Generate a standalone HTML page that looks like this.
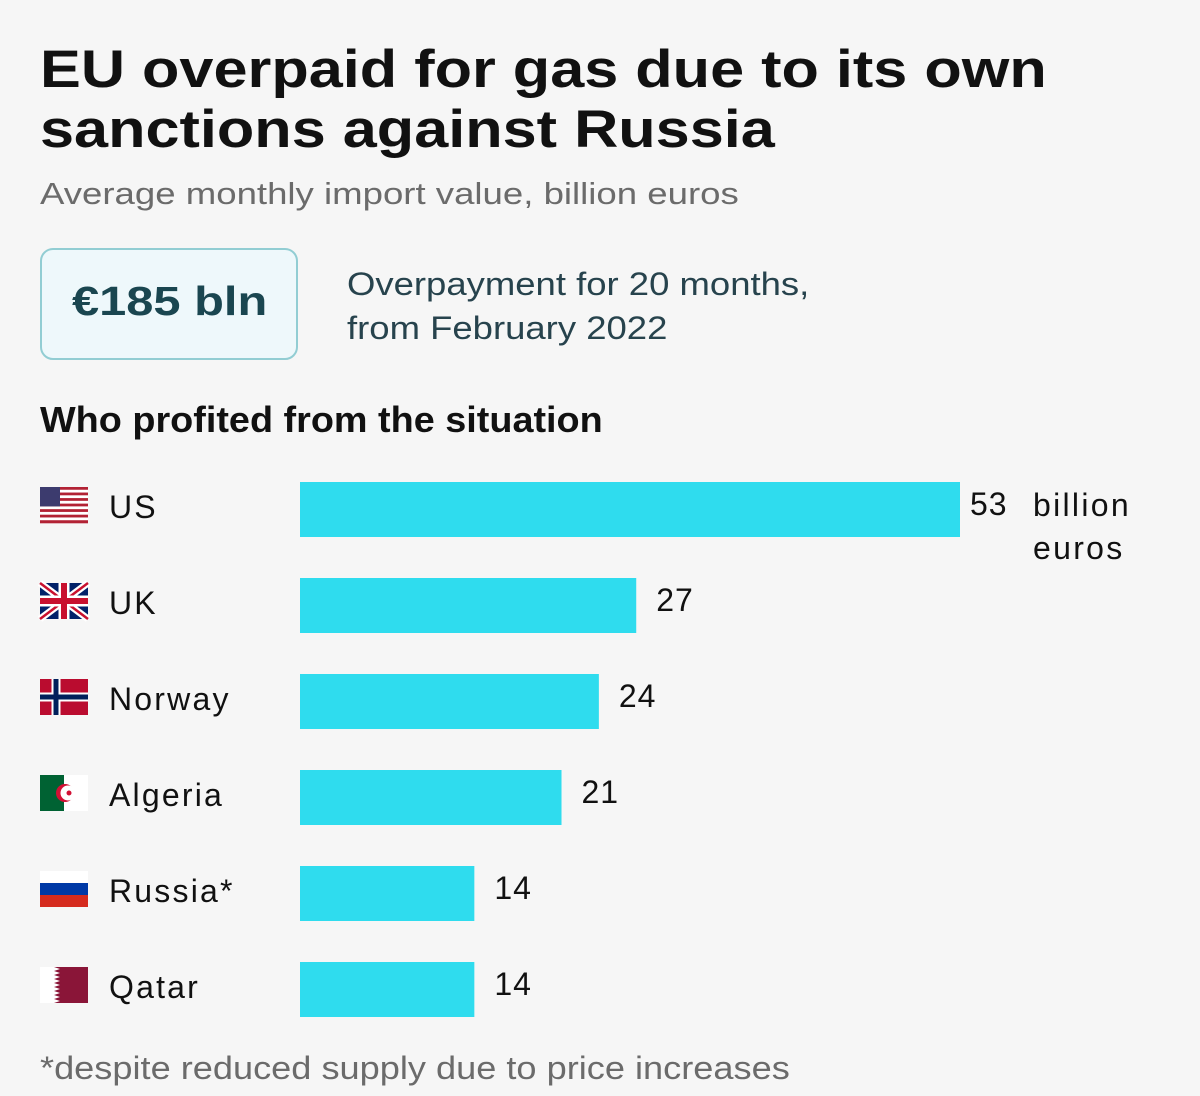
<!DOCTYPE html>
<html><head><meta charset="utf-8"><style>
body{margin:0;width:1200px;height:1096px;background:#f6f6f6;font-family:"Liberation Sans",sans-serif;position:relative;overflow:hidden}
.a{position:absolute;white-space:nowrap;transform-origin:0 0}
</style></head><body>
<div class="a" style="left:40px;top:40px;font-size:53px;font-weight:bold;line-height:60px;color:#111;transform:scaleX(1.155)">EU overpaid for gas due to its own<br>sanctions against Russia</div>
<div class="a" style="left:40px;top:176px;font-size:31px;color:#6b6b6b;transform:scaleX(1.18)">Average monthly import value, billion euros</div>
<div class="a" style="left:40px;top:248px;width:254px;height:108px;border:2px solid #92cdd3;border-radius:13px;background:#eef8fb;box-sizing:content-box"></div>
<div class="a" style="left:72px;top:278px;font-size:41px;font-weight:bold;color:#1a4650;transform:scaleX(1.19)">€185 bln</div>
<div class="a" style="left:347px;top:262px;font-size:32px;line-height:44px;color:#27434d;transform:scaleX(1.14)">Overpayment for 20 months,<br>from February 2022</div>
<div class="a" style="left:40px;top:399px;font-size:36px;font-weight:bold;color:#111;transform:scaleX(1.05)">Who profited from the situation</div>
<svg class="a" style="left:0;top:0" width="1200" height="1096" id="chart"></svg>
<div class="a" style="left:40px;top:1050px;font-size:32px;color:#6b6b6b;transform:scaleX(1.13)">*despite reduced supply due to price increases</div>
<script>
const categories=["US","UK","Norway","Algeria","Russia*","Qatar"];
const values=[53,27,24,21,14,14];
const flags=["us","uk","no","dz","ru","qa"];
const NS="http://www.w3.org/2000/svg";
const svg=document.getElementById('chart');
const x0=300,scale=660/53,y0=482,step=96,bh=55;
const xs=v=>x0+v*scale;
const ys=i=>y0+i*step;
function el(t,a,p){const e=document.createElementNS(NS,t);for(const k in a)e.setAttribute(k,a[k]);(p||svg).appendChild(e);return e;}
function flag(code,y){
  const g=el('g',{transform:`translate(40,${y})`});
  
  
  const W=48,H=36;
  if(code==='us'){for(let i=0;i<13;i++)el('rect',{x:0,y:i*H/13,width:W,height:H/13+0.3,fill:i%2?'#fff':'#b22234'},g);el('rect',{x:0,y:0,width:20,height:H*7/13,fill:'#3c3b6e'},g);}
  else if(code==='uk'){el('rect',{width:W,height:H,fill:'#012169'},g);el('path',{d:`M0 0L${W} ${H}M${W} 0L0 ${H}`,stroke:'#fff','stroke-width':7},g);el('path',{d:`M0 0L${W} ${H}M${W} 0L0 ${H}`,stroke:'#c8102e','stroke-width':2.5},g);el('path',{d:`M${W/2} 0V${H}M0 ${H/2}H${W}`,stroke:'#fff','stroke-width':11},g);el('path',{d:`M${W/2} 0V${H}M0 ${H/2}H${W}`,stroke:'#c8102e','stroke-width':6},g);}
  else if(code==='no'){el('rect',{width:W,height:H,fill:'#ba0c2f'},g);el('path',{d:`M16 0V${H}M0 ${H/2}H${W}`,stroke:'#fff','stroke-width':9},g);el('path',{d:`M16 0V${H}M0 ${H/2}H${W}`,stroke:'#00205b','stroke-width':5},g);}
  else if(code==='dz'){el('rect',{width:W,height:H,fill:'#fff'},g);el('rect',{width:24,height:H,fill:'#006233'},g);el('circle',{cx:25,cy:18,r:9,fill:'#d21034'},g);el('circle',{cx:28,cy:18,r:7.5,fill:'#fff'},g);el('circle',{cx:29,cy:18,r:2.5,fill:'#d21034'},g);}
  else if(code==='ru'){el('rect',{width:W,height:12,fill:'#fff'},g);el('rect',{y:12,width:W,height:12,fill:'#0039a6'},g);el('rect',{y:24,width:W,height:12,fill:'#d52b1e'},g);}
  else if(code==='qa'){el('rect',{width:W,height:H,fill:'#fff'},g);let d='M14 0';for(let i=0;i<9;i++){d+=`L20 ${(i+0.5)*4}L14 ${(i+1)*4}`;}d+=`L${W} ${H}L${W} 0Z`;el('path',{d:d,fill:'#8a1538'},g);}
}
categories.forEach((c,i)=>{
  const y=ys(i);
  flag(flags[i],y+5);
  const t=el('text',{x:109,y:y+36,'font-size':32,fill:'#111','letter-spacing':2.2});t.textContent=c;
  
  
  const r=el('rect',{x:x0,y:y,width:xs(values[i])-x0,height:bh,fill:'#2fdcee'});
  
  
  const v=el('text',{x:xs(values[i])+(i===0?10:20),y:y+33,'font-size':32,fill:'#111','letter-spacing':1});v.textContent=values[i];
  
  
});
const u1=el('text',{x:1033,y:ys(0)+34,'font-size':32,fill:'#111','letter-spacing':2.3});u1.textContent='billion';


const u2=el('text',{x:1033,y:ys(0)+77,'font-size':32,fill:'#111','letter-spacing':2.3});u2.textContent='euros';


</script>
</body></html>
